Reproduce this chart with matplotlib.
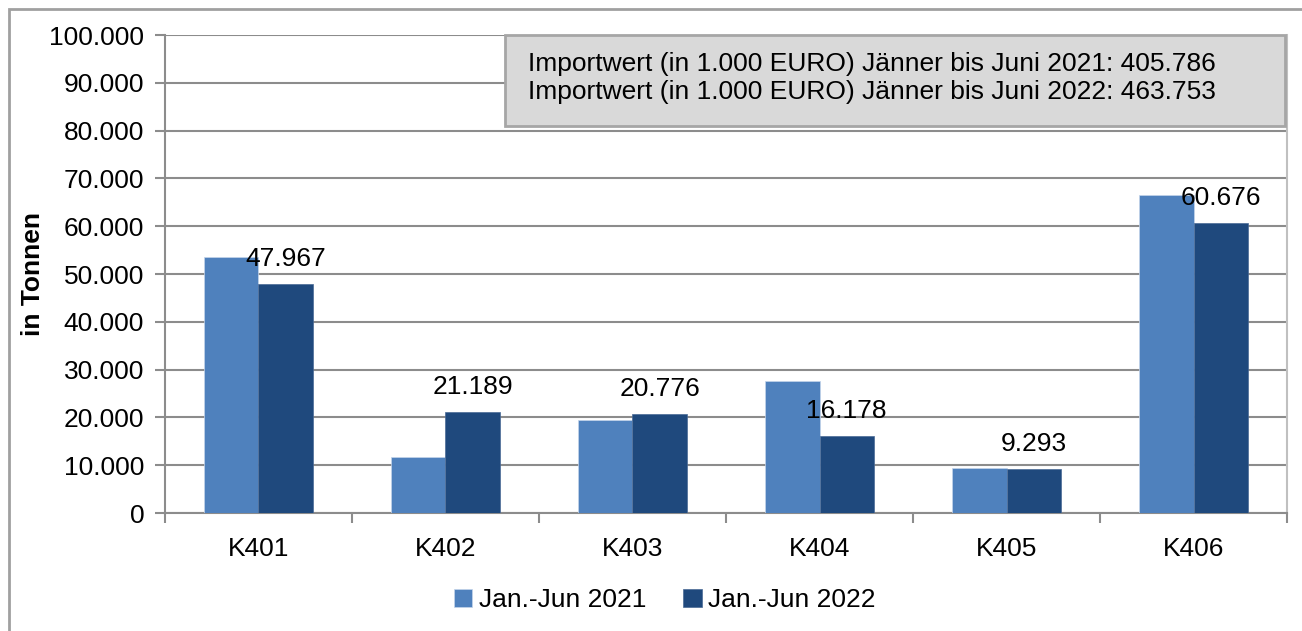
import numpy as np
import matplotlib
matplotlib.use("Agg")
from matplotlib import pyplot as plt
from matplotlib.patches import Rectangle
from matplotlib.ticker import FuncFormatter

plt.rcParams['font.family'] = ['Liberation Sans', 'DejaVu Sans']

categories = ["K401", "K402", "K403", "K404", "K405", "K406"]
values_2021 = [53500, 11700, 19400, 27600, 9400, 66500]
values_2022 = [47967, 21189, 20776, 16178, 9293, 60676]
series_names = ["Jan.-Jun 2021", "Jan.-Jun 2022"]
box_lines = ["Importwert (in 1.000 EURO) Jänner bis Juni 2021: 405.786",
             "Importwert (in 1.000 EURO) Jänner bis Juni 2022: 463.753"]

color_2021 = "#4f81bd"
color_2022 = "#1f497d"
grid_color = "#8c8c8c"
fs = 19

fig = plt.figure(figsize=(13.02, 6.31), dpi=100)
ax = fig.add_axes([0.1267, 0.187, 0.8618, 0.7575])

# outer chart frame
fig.patches.append(Rectangle((9 / 1302, -0.1), 1.2, 1 - 9 / 631 + 0.1,
                             transform=fig.transFigure, fill=False,
                             edgecolor="#a0a0a0", linewidth=2))

x = np.arange(len(categories))
w = 0.29
ax.bar(x - w / 2, values_2021, w, color=color_2021, edgecolor="#c5d5ea",
       linewidth=0.5, label=series_names[0], zorder=3)
ax.bar(x + w / 2, values_2022, w, color=color_2022, edgecolor="#4a6a96",
       linewidth=0.5, label=series_names[1], zorder=3)

for xi, v in zip(x, values_2022):
    ax.annotate("{:,}".format(v).replace(",", "."), (xi + w / 2, v),
                xytext=(0, 9), textcoords="offset points",
                ha="center", va="bottom", fontsize=fs, zorder=5)

ax.set_xlim(-0.5, len(categories) - 0.5)
ax.set_ylim(0, 100000)
ax.set_yticks(np.arange(0, 100001, 10000))
ax.yaxis.set_major_formatter(FuncFormatter(lambda v, p: "{:,}".format(int(v)).replace(",", ".")))
ax.grid(axis="y", color=grid_color, linewidth=1.5, zorder=0)

ax.set_xticks(x)
ax.set_xticklabels(categories)
ax.set_xticks(np.arange(-0.5, len(categories)), minor=True)
ax.tick_params(axis="x", which="major", length=0, pad=17, labelsize=fs)
ax.tick_params(axis="x", which="minor", length=7, width=1.5, color=grid_color)
ax.tick_params(axis="y", length=7, width=1.5, color=grid_color, pad=8, labelsize=fs)

for side in ["left", "bottom"]:
    ax.spines[side].set_color(grid_color)
    ax.spines[side].set_linewidth(1.5)
ax.spines["top"].set_visible(False)
ax.spines["right"].set_color("#c0c0c0")
ax.spines["right"].set_linewidth(1.5)

ax.set_ylabel("in Tonnen", fontsize=fs, fontweight="bold")
ax.yaxis.set_label_coords(-0.107, 0.5)

# info box
ax.add_patch(Rectangle((0.303, 0.8096), 0.695, 0.1904, transform=ax.transAxes,
                       facecolor="#d9d9d9", edgecolor="#a6a6a6", linewidth=2,
                       zorder=6, clip_on=False))
ax.text(0.3235, 0.91, "\n".join(box_lines), transform=ax.transAxes,
        fontsize=fs, va="center", ha="left", linespacing=1.25, zorder=7)

fig.legend(loc="center", bbox_to_anchor=(665 / 1302, 1 - 600 / 631), ncol=2,
           frameon=False, fontsize=fs, handlelength=0.7, handleheight=0.7,
           handletextpad=0.25, columnspacing=1.4)

fig.savefig("out.png", dpi=100)
